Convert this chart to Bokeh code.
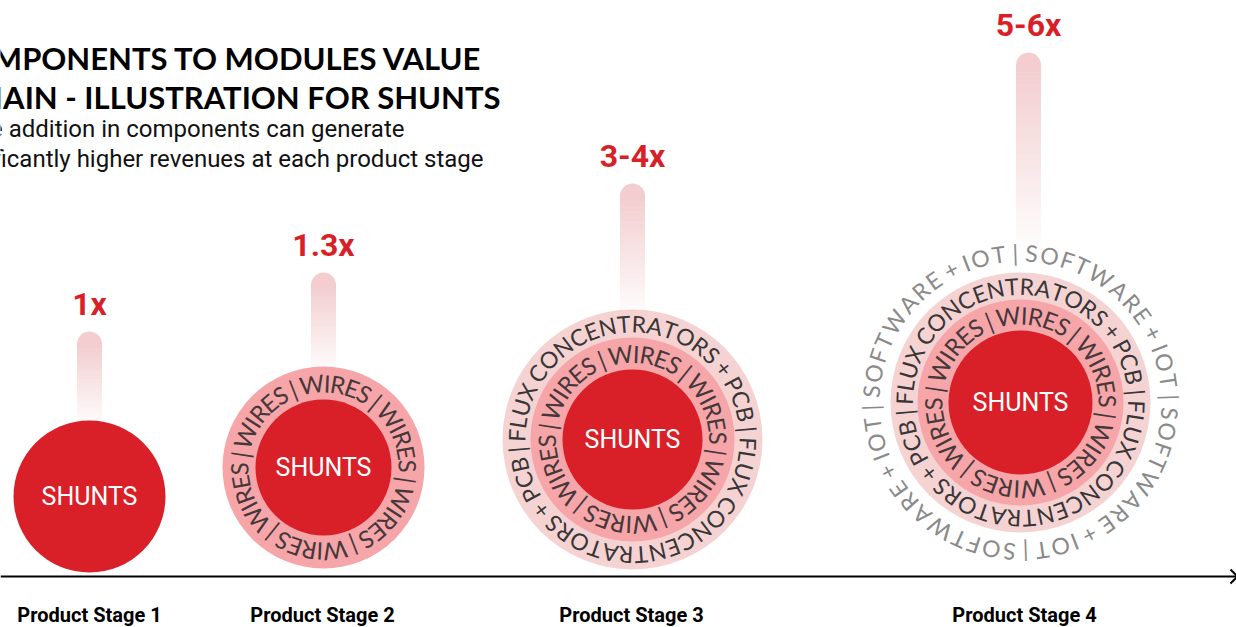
import numpy as np
from bokeh.plotting import figure
from bokeh.models import Range1d, ColumnDataSource
from bokeh.core.properties import value
from bokeh.embed import file_html
from bokeh.resources import INLINE

# ---------------- data ----------------
stages = ["Product Stage 1", "Product Stage 2", "Product Stage 3", "Product Stage 4"]
multipliers = ["1x", "1.3x", "3-4x", "5-6x"]
bar_heights = [245, 304, 393, 524]          # height of value bar above the baseline
core_label = "SHUNTS"
ring_texts = [
    [],
    ["WIRES | " * 6],
    ["WIRES | " * 6, "FLUX CONCENTRATORS + PCB | " * 2],
    ["WIRES | " * 6, "FLUX CONCENTRATORS + PCB | " * 2, "| SOFTWARE + IOT " * 4],
]
title_lines = ["COMPONENTS TO MODULES VALUE", "CHAIN - ILLUSTRATION FOR SHUNTS"]
subtitle_lines = ["Value addition in components can generate",
                  "significantly higher revenues at each product stage"]

# ---------------- layout / style ----------------
FW, FH = 1236, 627
BASE = 51
stage_cx = [89, 323, 632, 1020]
stage_cy = [131, 160, 188, 225]
bar_x = [89, 323, 632, 1028]
core_r = [76, 68, 70, 72]
ring_geom = [[], [(101, 84.5)], [(102, 86), (130, 116)], [(103, 87.5), (130, 116.5), (None, 150)]]
ring_fill = ["#f6a5a9", "#f5d3d3", None]
ring_txt_col = ["#46383a", "#383636", "#8a8a8a"]
ring_font = ["24px", "23px", "23px"]
ring_anchor = [(2, 80), (25, 5), (0, 92)]
RED = "#d91f27"
BAR_TOP = np.array([243, 205, 207])

CW = {"A": .68, "B": .63, "C": .66, "E": .57, "F": .54, "I": .29, "L": .50, "N": .75,
      "O": .78, "P": .60, "R": .62, "S": .55, "T": .58, "U": .72, "W": .98, "X": .64,
      " ": .18, "|": .26, "+": .55}

p = figure(width=FW, height=FH, x_range=Range1d(0, FW), y_range=Range1d(0, FH),
           output_backend="svg", toolbar_location=None, min_border=0,
           x_axis_type=None, y_axis_type=None)
p.grid.visible = False
p.outline_line_color = None
p.background_fill_color = "white"
p.border_fill_color = "white"

# ---- value bars (gradient capsules) ----
extent = [76, 101, 130, 160]
qs = dict(l=[], r=[], t=[], b=[], c=[])
caps = dict(x=[], y=[], c=[])
N = 70
for i in range(4):
    top = BASE + bar_heights[i]
    ctop = top - 12.5
    bottom = stage_cy[i] + extent[i] - 4
    edges = np.linspace(ctop, bottom, N + 1)
    for k in range(N):
        t = (k + 0.5) / N * 0.95
        col = BAR_TOP * (1 - t) + 255 * t
        qs["l"].append(bar_x[i] - 12.5); qs["r"].append(bar_x[i] + 12.5)
        qs["t"].append(edges[k] + 0.6); qs["b"].append(edges[k + 1])
        qs["c"].append("#%02x%02x%02x" % tuple(int(v) for v in col))
    caps["x"].append(bar_x[i]); caps["y"].append(ctop)
    caps["c"].append("#%02x%02x%02x" % tuple(int(v) for v in BAR_TOP))
p.quad(left="l", right="r", top="t", bottom="b", fill_color="c", line_color=None,
       source=ColumnDataSource(qs))
p.wedge(x="x", y="y", radius=12.5, start_angle=0, end_angle=np.pi, fill_color="c",
        line_color=None, source=ColumnDataSource(caps))

# ---- circles ----
for i in range(4):
    geo = ring_geom[i]
    for j in range(len(geo) - 1, -1, -1):
        outer, _ = geo[j]
        if outer is not None and ring_fill[j] is not None:
            p.circle(x=stage_cx[i], y=stage_cy[i], radius=outer,
                     fill_color=ring_fill[j], line_color=None)
    p.circle(x=stage_cx[i], y=stage_cy[i], radius=core_r[i], fill_color=RED, line_color=None)

# ---- ring text ----
def ring_chars(cx, cy, r, text, anchor_idx, anchor_deg):
    w = np.array([CW.get(c, 0.6) for c in text])
    cum = np.cumsum(w) - w / 2
    ang = -cum / w.sum() * 2 * np.pi
    ang = ang - ang[anchor_idx] + np.radians(anchor_deg)
    return cx + r * np.cos(ang), cy + r * np.sin(ang), ang - np.pi / 2

for j in range(3):
    rt = dict(x=[], y=[], text=[], angle=[])
    for i in range(4):
        if j >= len(ring_texts[i]):
            continue
        txt = ring_texts[i][j]
        _, tr = ring_geom[i][j]
        xs, ys, an = ring_chars(stage_cx[i], stage_cy[i], tr, txt, *ring_anchor[j])
        for c, x, y, a in zip(txt, xs, ys, an):
            if c == " ":
                continue
            rt["x"].append(x); rt["y"].append(y); rt["text"].append(c); rt["angle"].append(a)
    p.text(x="x", y="y", text="text", angle="angle", text_color=ring_txt_col[j],
           source=ColumnDataSource(rt), text_align="center", text_baseline="middle",
           text_font=value("Lato"), text_font_size=ring_font[j])

# ---- core labels ----
p.text(x=stage_cx, y=stage_cy, text=[core_label] * 4, text_color="white",
       text_align="center", text_baseline="middle", text_font=value("Roboto"),
       text_font_size="25px")

# ---- multipliers ----
p.text(x=bar_x, y=[BASE + h + 28 for h in bar_heights], text=multipliers, text_color=RED,
       text_align="center", text_baseline="middle", text_font=value("Roboto"),
       text_font_style="bold", text_font_size="32px")

# ---- baseline with arrow ----
p.segment(x0=[0], y0=[BASE], x1=[1236], y1=[BASE], line_color="black", line_width=2)
p.segment(x0=[1230, 1230], y0=[BASE + 7, BASE - 7], x1=[1237, 1237], y1=[BASE, BASE],
          line_color="black", line_width=2)

# ---- stage labels ----
p.text(x=[89, 322, 631, 1024], y=[13] * 4, text=stages, text_color="black",
       text_align="center", text_baseline="middle", text_font=value("Roboto"),
       text_font_style="bold", text_font_size="20px")

# ---- title & subtitle ----
p.text(x=[482, 500], y=[570, 531], text=title_lines, text_color="black",
       text_align="right", text_baseline="middle", text_font=value("Lato"),
       text_font_style="bold", text_font_size="31px")
p.text(x=[404, 483], y=[499, 469], text=subtitle_lines, text_color="#111111",
       text_align="right", text_baseline="middle", text_font=value("Roboto"),
       text_font_size="24px")

open("out.html", "w").write(file_html(p, INLINE))
